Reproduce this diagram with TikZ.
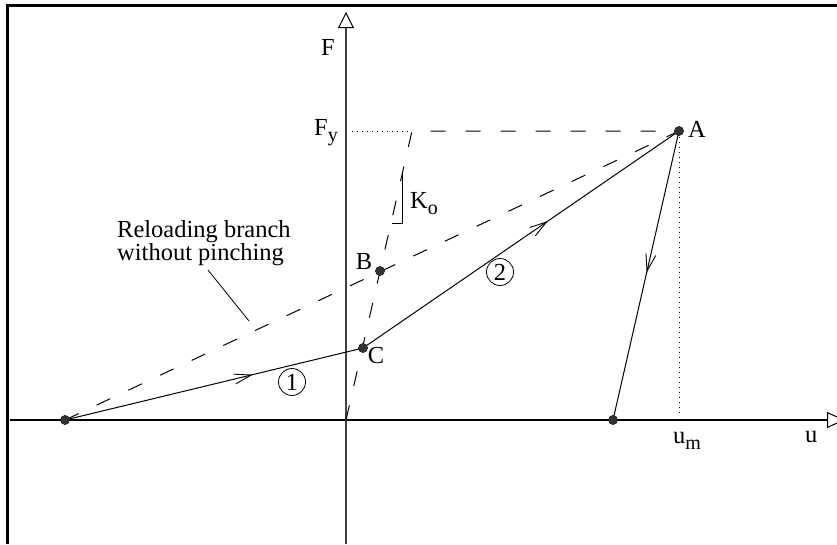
\documentclass[tikz,border=0pt]{standalone}
\usepackage{fontspec}
\setmainfont{Liberation Serif}
\usetikzlibrary{arrows.meta,decorations.markings}
\newcommand\lowsub[1]{\raisebox{-6pt}{\fontsize{20}{20}\selectfont #1}}
\tikzset{
  barb/.tip={Straight Barb[length=17pt,width=10pt,line width=0.9pt]},
  dot/.style={circle,fill=black!80,draw=black,line width=0.6pt,inner sep=0pt,minimum size=9pt},
  lbl/.style={inner sep=0pt,font=\fontsize{24.5}{23}\selectfont},
  numc/.style={circle,draw,line width=0.8pt,inner sep=0pt,minimum size=27pt,font=\fontsize{24.5}{23}\selectfont},
  dsh/.style={line width=1pt,dash pattern=on 15pt off 20pt},
  dtt/.style={line width=1pt,dash pattern=on 1pt off 4pt},
  solidln/.style={line width=1pt},
  midarrow/.style={postaction={decorate},decoration={markings,mark=at position #1 with {\arrow{barb}}}},
  axis/.style={line width=1.3pt}
}
\begin{document}
\begin{tikzpicture}[x=1pt,y=-1pt]
\useasboundingbox (0,0) rectangle (837,544);
% frame (top and left only visible)
\draw[line width=3pt] (7.5,544) -- (7.5,5.5) -- (837,5.5);
% axes
\coordinate (uL) at (10,420);
\coordinate (uR) at (845,420);
\coordinate (fB) at (346,544);
\coordinate (fT) at (346,12);
\draw[axis,-{Triangle[open,length=18pt,width=16pt,line width=1pt]}] (uL) -- (uR);
\draw[axis,black!75,-{Triangle[open,length=16pt,width=16pt,line width=1pt,black]}] (fB) -- (fT);
% points
\node[dot] (O) at (65,420) {};
\node[dot] (C) at (363,348) {};
\node[dot] (B) at (380,271) {};
\node[dot] (A) at (679,131) {};
\node[dot] (D) at (613,420) {};
\coordinate (K0) at (346,420);
\coordinate (Kc) at (412,131);
\coordinate (FyL) at (352,131);
\coordinate (FyR) at (410,131);
\coordinate (um) at (679,413);
% dashed lines
\draw[dsh] (K0) -- (Kc) -- (A.center);
\draw[dsh] (O.center) -- (A.center);
% dotted
\draw[dtt] (FyL) -- (FyR);
\draw[dtt] (A.center) ++(0,6) -- (um);
% solid path
\draw[solidln,midarrow=0.63] (O.center) -- (C.center);
\draw[solidln,midarrow=0.585] (C.center) -- (A.center);
\draw[solidln,midarrow=0.49] (A.center) -- (D.center);
% redraw dots on top
\foreach \p in {O,C,B,A,D} \fill[black!80] (\p) circle (4.5pt);
% slope marker
\coordinate (s1) at (402,173);
\coordinate (s2) at (402,223);
\coordinate (s3) at (392,223);
\draw[line width=0.9pt] (s1) -- (s2) -- (s3);
% leader
\coordinate (l1) at (208,270);
\coordinate (l2) at (249,321);
\draw[line width=0.8pt] (l1) -- (l2);
% labels
\node[lbl] (tF) at (328,47) {F};
\node[lbl,anchor=base west] (tFy) at (314,135) {F\lowsub{y}};
\node[lbl,anchor=base west] (tum) at (673,443) {u\lowsub{m}};
\node[lbl,anchor=base west] (tu) at (805,442) {u};
\node[lbl] (tA) at (697,129) {A};
\node[lbl] (tB) at (364,262) {B};
\node[lbl] (tC) at (376,356) {C};
\node[lbl,anchor=base west] (tK) at (410,208) {K\lowsub{o}};
\node[numc] (n1) at (292,382) {1};
\node[numc] (n2) at (500,272) {2};
\node[lbl,anchor=base west,align=left] (note) at (117,260) {Reloading branch\\without pinching};
\end{tikzpicture}
\end{document}
